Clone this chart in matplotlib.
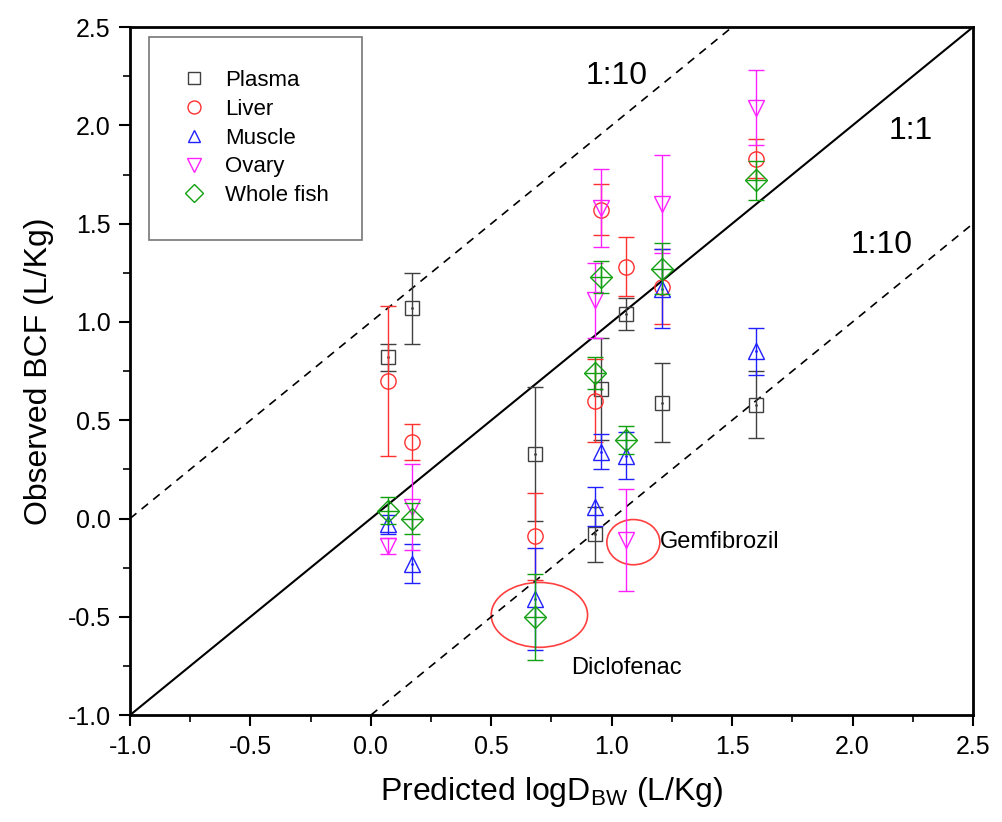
import numpy as np
import matplotlib.pyplot as plt
from matplotlib.patches import Ellipse
from matplotlib.ticker import MultipleLocator

# predicted logD_BW of each compound
x_pred = [0.07, 0.17, 0.68, 0.93, 0.955, 1.06, 1.21, 1.60]

plasma = [0.82, 1.07, 0.33, -0.08, 0.66, 1.04, 0.59, 0.58]
plasma_err = [0.07, 0.18, 0.34, 0.14, 0.26, 0.08, 0.20, 0.17]
liver = [0.70, 0.39, -0.09, 0.60, 1.57, 1.28, 1.18, 1.83]
liver_err = [0.38, 0.09, 0.22, 0.21, 0.13, 0.15, 0.19, 0.10]
muscle = [-0.03, -0.23, -0.41, 0.06, 0.34, 0.32, 1.17, 0.85]
muscle_err = [0.05, 0.10, 0.26, 0.10, 0.09, 0.12, 0.20, 0.12]
ovary = [-0.14, 0.06, np.nan, 1.11, 1.58, -0.11, 1.60, 2.09]
ovary_err = [0.04, 0.22, np.nan, 0.19, 0.20, 0.26, 0.25, 0.19]
whole = [0.04, 0.00, -0.50, 0.74, 1.23, 0.40, 1.27, 1.72]
whole_err = [0.07, 0.08, 0.22, 0.08, 0.08, 0.07, 0.13, 0.10]

plt.rcParams['font.family'] = ['Liberation Sans', 'DejaVu Sans']

fig = plt.figure(figsize=(10.02, 8.22), dpi=100)
ax = fig.add_axes([0.1297, 0.130, 0.8413, 0.837])

# reference lines
ax.plot([-1, 2.5], [-1, 2.5], color='black', lw=1.5)
ax.plot([-1, 1.5], [0, 2.5], color='black', lw=1.2, ls=(0, (5, 4)))
ax.plot([0, 2.5], [-1, 1.5], color='black', lw=1.2, ls=(0, (5, 4)))

series = [
    ('Plasma', plasma, plasma_err, '#404040', 's', 10),
    ('Liver', liver, liver_err, '#ff3030', 'o', 11),
    ('Muscle', muscle, muscle_err, '#2020ff', '^', 11),
    ('Ovary', ovary, ovary_err, '#ff20ff', 'v', 12),
    ('Whole fish', whole, whole_err, '#10a010', 'D', 11),
]

handles = []
for name, vals, err, col, mk, ms in series:
    ax.errorbar(x_pred, vals, yerr=err, fmt='none', ecolor=col,
                elinewidth=1.0, capsize=6, capthick=1.0)
    h, = ax.plot(x_pred, vals, ls='none', marker=mk, ms=ms, mfc='none',
                 mec=col, mew=1.0)
    if mk == 'D':
        ax.plot(x_pred, vals, ls='none', marker='+', ms=ms * 1.3,
                mec=col, mew=1.0)
    elif mk in ('s', '^'):
        ax.plot(x_pred, vals, ls='none', marker='.', ms=2, color=col)
    handles.append((h, name))

# annotations
ax.add_patch(Ellipse((0.70, -0.49), 0.40, 0.33, fill=False,
                     edgecolor='#ff4040', lw=1.2))
ax.add_patch(Ellipse((1.09, -0.12), 0.22, 0.23, fill=False,
                     edgecolor='#ff4040', lw=1.2))
ax.text(1.06, -0.76, 'Diclofenac', fontsize=17, ha='center', va='center')
ax.text(1.20, -0.12, 'Gemfibrozil', fontsize=17, ha='left', va='center')
ax.text(1.02, 2.25, '1:10', fontsize=23, ha='center', va='center')
ax.text(2.24, 1.97, '1:1', fontsize=23, ha='center', va='center')
ax.text(2.12, 1.39, '1:10', fontsize=23, ha='center', va='center')

ax.set_xlim(-1.0, 2.5)
ax.set_ylim(-1.0, 2.5)
ax.xaxis.set_major_locator(MultipleLocator(0.5))
ax.yaxis.set_major_locator(MultipleLocator(0.5))
ax.xaxis.set_minor_locator(MultipleLocator(0.25))
ax.yaxis.set_minor_locator(MultipleLocator(0.25))
ax.xaxis.set_major_formatter(plt.FormatStrFormatter('%.1f'))
ax.yaxis.set_major_formatter(plt.FormatStrFormatter('%.1f'))
ax.tick_params(which='major', direction='out', length=8, width=1.5,
               labelsize=18, pad=6)
ax.tick_params(which='minor', direction='out', length=5, width=1.2)
for s in ax.spines.values():
    s.set_linewidth(2)

ax.set_xlabel('Predicted logD$_\\mathregular{BW}$ (L/Kg)', fontsize=23,
              labelpad=12)
ax.set_ylabel('Observed BCF (L/Kg)', fontsize=23, labelpad=10)

leg = ax.legend([h for h, n in handles], [n for h, n in handles],
                loc='upper left', bbox_to_anchor=(0.023, 0.986),
                borderaxespad=0, frameon=True, fancybox=False,
                edgecolor='#555555', borderpad=1.5, labelspacing=0.35,
                handletextpad=0.9, handlelength=1.0, markerscale=0.85,
                prop={'size': 16})
leg.get_frame().set_linewidth(1.2)

fig.savefig('out.png', dpi=100)
